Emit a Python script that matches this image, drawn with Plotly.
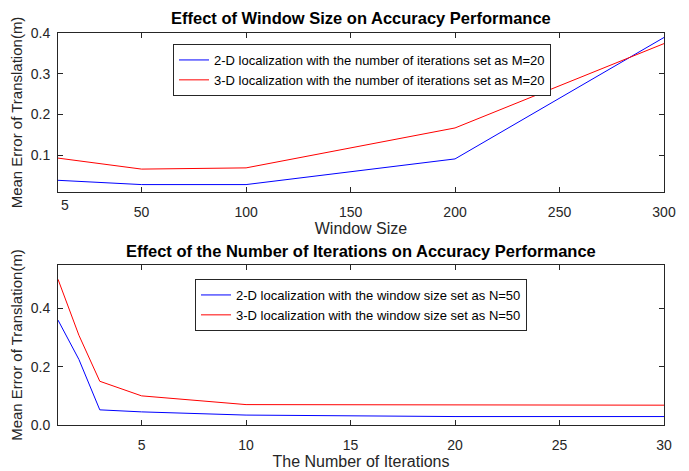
import plotly.graph_objects as go

# Top chart: window size
win_x = [10, 50, 100, 200, 300]
win_2d = [0.0385, 0.028, 0.028, 0.091, 0.389]
win_3d = [0.093, 0.066, 0.069, 0.167, 0.374]
win_ticks = [50, 100, 150, 200, 250, 300]

# Bottom chart: iterations
it_x = [1, 2, 3, 5, 10, 20, 30]
it_2d = [0.36, 0.225, 0.052, 0.045, 0.034, 0.029, 0.029]
it_3d = [0.50, 0.308, 0.15, 0.10, 0.07, 0.068, 0.068]
it_ticks = [5, 10, 15, 20, 25, 30]

FONT = "Liberation Sans, Arial, Helvetica, sans-serif"
W, H = 689, 471
xd = [58 / W, 664 / W]
yd_top = [1 - 192 / H, 1 - 33 / H]
yd_bot = [1 - 425 / H, 1 - 265 / H]
AX = "#262626"

fig = go.Figure()
fig.add_trace(go.Scatter(x=win_x, y=win_2d, mode="lines", line=dict(color="#0000ff", width=1),
                         name="2-D localization with the number of iterations set as M=20",
                         xaxis="x", yaxis="y", legend="legend"))
fig.add_trace(go.Scatter(x=win_x, y=win_3d, mode="lines", line=dict(color="#ff0000", width=1),
                         name="3-D localization with the number of iterations set as M=20",
                         xaxis="x", yaxis="y", legend="legend"))
fig.add_trace(go.Scatter(x=it_x, y=it_2d, mode="lines", line=dict(color="#0000ff", width=1),
                         name="2-D localization with the window size set as N=50",
                         xaxis="x2", yaxis="y2", legend="legend2"))
fig.add_trace(go.Scatter(x=it_x, y=it_3d, mode="lines", line=dict(color="#ff0000", width=1),
                         name="3-D localization with the window size set as N=50",
                         xaxis="x2", yaxis="y2", legend="legend2"))

axis_common = dict(showline=True, linecolor=AX, linewidth=1, mirror="ticks", automargin=False,
                   ticks="inside", ticklen=5, tickcolor=AX, showgrid=False, zeroline=False,
                   tickfont=dict(size=14, color=AX, family=FONT))
ytitle = dict(text="Mean Error of Translation(m)", font=dict(size=15, color=AX, family=FONT), standoff=4)


def xtitle(t):
    return dict(text=t, font=dict(size=16, family=FONT, color=AX), standoff=4)


leg_common = dict(xanchor="left", yanchor="top", bordercolor=AX, borderwidth=1, bgcolor="white",
                  font=dict(size=13, family=FONT, color="#000"), itemwidth=30, tracegroupgap=0)

fig.update_layout(
    width=W, height=H, margin=dict(l=0, r=0, t=0, b=0, autoexpand=False),
    paper_bgcolor="white", plot_bgcolor="white",
    font=dict(family=FONT, color=AX),
    xaxis=dict(domain=xd, anchor="y", range=[10, 300], tickvals=win_ticks,
               title=xtitle("Window Size"), ticklabelstandoff=7, **axis_common),
    yaxis=dict(domain=yd_top, anchor="x", range=[0.0098, 0.4], tickvals=[0.1, 0.2, 0.3, 0.4],
               tickformat=".1f", title=ytitle, ticklabelstandoff=4, **axis_common),
    xaxis2=dict(domain=xd, anchor="y2", range=[1, 30], tickvals=it_ticks,
                title=xtitle("The Number of Iterations"), ticklabelstandoff=7, **axis_common),
    yaxis2=dict(domain=yd_bot, anchor="x2", range=[0, 0.549], tickvals=[0, 0.2, 0.4],
                tickformat=".1f", title=ytitle, ticklabelstandoff=4, **axis_common),
    legend=dict(x=173 / W, y=1 - 44 / H, **leg_common),
    legend2=dict(x=195 / W, y=1 - 279 / H, **leg_common),
    showlegend=True,
    annotations=[
        dict(text="<b>Effect of Window Size on Accuracy Performance</b>", x=(xd[0] + xd[1]) / 2, y=1 - 18 / H,
             xref="paper", yref="paper", yanchor="middle", showarrow=False,
             font=dict(size=16.5, family=FONT, color="#000")),
        dict(text="<b>Effect of the Number of Iterations on Accuracy Performance</b>", x=(xd[0] + xd[1]) / 2,
             y=1 - 251 / H, xref="paper", yref="paper", yanchor="middle", showarrow=False,
             font=dict(size=16.5, family=FONT, color="#000")),
        dict(text="5", x=10, xref="x", y=1 - 205 / H, yref="paper", xanchor="left", yanchor="middle",
             showarrow=False, xshift=1, font=dict(size=14, family=FONT, color=AX)),
    ],
)

fig.write_html("out.html", config={"displayModeBar": False},
               post_script="document.body.style.margin='0';document.body.style.overflow='hidden';")
